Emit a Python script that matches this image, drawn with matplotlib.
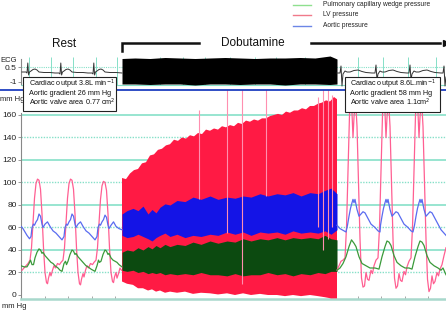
import matplotlib
matplotlib.use('Agg')
import matplotlib.pyplot as plt
import numpy as np
from matplotlib.lines import Line2D
from matplotlib.patches import Rectangle

plt.rcParams['font.family'] = ['Liberation Sans', 'DejaVu Sans']

# ---------------- data ----------------
# Rest phase (time in arbitrary units)
rest_lv_t = [22,24,26,28,30,31.5,33,34.5,36,37.5,39,40.5,42,43.5,45,46.5,47.5,48.5,50,51,52.5,54,55.5,57.5,59.5,61,63,
             64.5,66,67.5,69,70.5,72,73.5,75,76.5,78,79.5,80.5,81.5,83,84,85.5,87,88.5,90.5,92.5,94,96,
             97.5,99,100.5,102,103.5,105,106.5,108,109.5,111,112.5,113.5,114.5,116,117,118.5,120,121.5]
rest_lv_p = [22,24,26,28,31,42,64,86,99,103,102,94,72,42,20,11,10,15,20,17,22,26,24,28,27,29,31,
             42,64,86,99,103,102,94,72,42,20,10,9,14,19,16,22,26,24,28,27,29,31,
             42,64,85,97,101,100,93,72,42,20,12,11,16,20,15,19,24,22]

rest_ao_t = [21,23,25,27,29.5,31,32,33.5,34.5,36,37.5,39,40.5,42,43,45,47.5,50,53,56,59,62,
             64,65,66.5,67.5,69,70.5,72,73.5,75,76,78,80.5,83,86,89,92,95,
             97,98,99.5,100.5,102,103.5,105,106.5,108,109,111,113.5,116,119,122]
rest_ao_p = [61,59,56,53,50,52,60,63,62,65,67,72,70,63,60,63,65,61,57,55,52,49,
             52,60,63,62,65,67,72,70,63,60,63,65,61,57,55,52,49,
             52,60,63,62,65,67,71,69,62,59,62,65,61,59,58]

rest_pw_t = [21,24,27,29,30.5,32,33.5,35,37,39,40.5,42,43,45,47,49,51,53,55,58,60,62,
             64,65.5,66.5,68,70,72,73.5,75,76,78,80,82,84,86,88,91,93,95,
             97,98.5,99.5,101,103,105,106.5,108,109,111,113,115,117,119,122]
rest_pw_p = [26,25,25,28,31,27,27,33,38,41,40,37,38,35,33,31,29,28,26,24,22,21,
             28,30,27,30,36,40,39,36,37,34,32,30,28,26,25,23,22,21,
             26,31,29,30,36,40,39,36,37,33,31,30,29,27,25]

# Dobutamine phase: envelopes of the compressed recording
dob_t = [122,127,133,138,143,148,152,156,160,165,170,177,185,193,201,210,
         218,227,235,243,251,260,268,277,285,293,301,310,318,325,331,337]
dob_ao_max = [72,75,77,75,79,72,76,73,78,81,80,84,83,87,85,88,
              85,87,86,88,87,90,88,90,89,91,88,91,90,93,95,90]
dob_ao_min = [53,51,52,54,52,50,48,51,53,55,52,54,51,53,52,54,
              53,56,54,56,53,56,55,56,54,57,55,56,55,57,54,58]
dob_pw_max = [38,40,39,42,40,43,41,44,42,45,43,45,44,47,45,48,
              46,48,47,50,48,50,49,51,49,51,50,51,50,53,50,49]
dob_pw_min = [22,21,22,20,21,19,20,19,20,18,19,18,19,18,20,18,
              18,17,19,17,18,18,20,18,19,17,19,18,20,19,21,21]
dob_lv_min = [12,10,9,6,6,4,5,3,4,2,3,2,3,1,2,1.5,
              0.5,1.5,0,1.5,0,1,0,0,-1,0,-1,0,-1,-2,-3,-3]
dob_lvtop_t = [122,126,130,134,138,142,146,150,154,158,162,166,170,174,178,182,186,190,194,198,
               202,206,210,214,218,222,226,230,234,238,242,246,250,254,258,262,266,270,274,278,
               282,286,290,294,298,302,306,310,314,318,322,326,330,334,337]
dob_lvtop_p = [104,103,108,111,112,117,118,124,125,129,130,133,134,138,137,140,139,142,141,144,
               143,147,146,148,147,150,149,151,150,153,152,155,154,156,155,157,157,159,160,161,
               160,163,162,164,164,166,165,168,168,170,171,173,172,176,174]
spike_t = [199,227,242,266,318,323,328,332]
spike_top = [164,185,185,185,176,185,185,178]
spike_bot = [85,55,10,88,60,40,50,60]

# Recovery phase
rec_lv_t = [337,339,341,343,345,346.5,348,349.5,350.5,352,353,354,355.5,357,358.5,360,361.5,363,364.5,366,367.5,369,371,372.5,374,376,378,
            379.5,381,382.5,383.5,385,386,387,388.5,390,391.5,393,394.5,396,397.5,399,400.5,402,404,405.5,407,409,411,
            412.5,414,415.5,416.5,418,419,420,421.5,423,424.5,426,427.5,429,430.5,432,433.5,435,437,438.5,440,442,444,446]
rec_lv_p = [22,26,30,31,33,60,110,160,176,162,140,158,174,150,100,50,15,7,8,20,14,13,22,19,26,31,33,
            60,110,160,176,162,140,158,174,150,100,50,15,6,8,19,13,12,21,18,25,30,33,
            60,110,160,176,162,140,158,174,150,100,50,14,3,6,17,10,12,20,17,23,27,35,42]

rec_ao_t = [337,340,344,346,347.5,349,350.5,352,353,354,355,357,359,361,363,365,368,371,375,378,380,
            380.5,382,383.5,385,386,387,388,390,392,394,396,398,401,404,408,411,413,
            414.5,416,417.5,419,420,421,422,424,426,428,430,432,435,438,441,444,446]
rec_ao_p = [62,59,57,56,62,70,77,82,85,82,85,76,70,72,74,73,68,63,60,57,56,
            62,70,77,82,85,82,85,76,70,72,74,73,68,63,60,57,56,
            62,70,77,82,85,82,85,76,70,72,74,73,68,63,58,55,53]

rec_pw_t = [337,340,343,346,349,351.5,354,356,359,362,366,370,375,379,
            382,385,387,389,391,394,397,401,405,409,412,
            415,418,420,422,424,427,430,434,438,441,443,446]
rec_pw_p = [22,24,28,34,43,49,46,43,34,28,26,24,24,23,
            34,43,48,47,44,35,29,26,24,24,23,
            34,43,48,47,44,35,29,26,24,22,24,18]

# ECG
ecg_rest_t = [22,26,27,27.8,28.6,29.5,31,33,35,37,39,44,50,55,59,60,60.8,61.6,62.5,64,66,68,70,72,77,83,88,92,
              93,93.8,94.6,95.5,97,99,101,103,105,110,116,122]
ecg_rest_v = [0,0,-0.1,0.9,-0.3,0,0.1,0.25,0.3,0.2,0,-0.05,-0.05,-0.1,-0.1,-0.2,0.9,-0.3,0,0.1,0.25,0.3,0.2,0,-0.05,-0.05,-0.1,-0.1,
              -0.2,0.9,-0.3,0,0.1,0.25,0.3,0.2,0,-0.05,-0.05,-0.1]
ecg_rec_t = [337,340,341,342,343,345,347,350,354,358,362,366,372,375,376,377,378,380,382,385,389,393,397,401,407,
             409,410,411,412,414,416,419,423,427,431,435,441,443,444,445,446]
ecg_rec_v = [-0.1,-0.1,0.6,-1.4,-0.2,0.1,0,0,0.15,0.2,0.05,-0.05,-0.1,-0.1,0.7,-0.8,-0.2,0.1,0,0,0.15,0.2,0.05,-0.05,-0.1,
             -0.1,0.7,-0.8,-0.2,0.1,0,0,0.15,0.2,0.05,-0.05,-0.1,-0.1,0.6,-1.4,-0.5]
ecg_blk_t = [122,135,150,165,180,195,210,225,240,255,270,285,300,315,330,337]
ecg_blk_hi = [1.35,1.4,1.35,1.45,1.4,1.35,1.4,1.45,1.4,1.35,1.4,1.4,1.45,1.4,1.6,1.3]
ecg_blk_lo = [-1.2,-1.2,-1.25,-1.2,-1.2,-1.3,-1.2,-1.2,-1.25,-1.2,-1.2,-1.3,-1.2,-1.2,-1.25,-1.2]
ecg_grid_t = [29,51,73,96,117,160,183,205,230,255,276,305,328,358,383,408,436]

yticks = [0,20,40,60,80,100,120,140,160]
legend_labels = ['Pulmonary capillary wedge pressure', 'LV pressure', 'Aortic pressure']
box_left = ['Cardiac output 3.8L min$^{-1}$', 'Aortic gradient 26 mm Hg', 'Aortic valve area 0.77 cm$^{2}$']
box_right = ['Cardiac output 8.6L.min$^{-1}$', 'Aortic gradient 58 mm Hg', 'Aortic valve area 1.1cm$^{2}$']

# ---------------- style ----------------
W, H = 446, 313
fig = plt.figure(figsize=(W/100, H/100), dpi=100)
fig.patch.set_facecolor('white')

def fx(x):
    return x / W

def fy(y):
    return 1 - y / H

GRID = '#86e0c8'
LV_C = '#ff5f92'
AO_C = '#5a6cf0'
PW_C = '#3a9a3a'
RED = '#ff1a44'
BLUE = '#1414e6'
DGREEN = '#0c4a10'

# main pressure axes
ax = fig.add_axes([fx(21), fy(299), fx(425), 209/H])
ax.set_xlim(21, 446)
ax.set_ylim(-3.56, 182.2)
for v in [40, 80, 120, 160]:
    ax.axhline(v, color=GRID, lw=1.2, zorder=1)
for v in [20, 60, 100, 140]:
    ax.axhline(v, color=GRID, lw=1.0, ls=(0, (1, 1)), zorder=1)

red_x = np.concatenate([dob_lvtop_t, dob_t[::-1]])
red_y = np.concatenate([dob_lvtop_p, dob_lv_min[::-1]])
ax.fill(red_x, red_y, color=RED, lw=0, zorder=3)
ax.fill_between(dob_t, dob_ao_min, dob_ao_max, color=BLUE, lw=0, zorder=4)
ax.fill_between(dob_t, dob_pw_min, dob_pw_max, color=DGREEN, lw=0, zorder=5)
ax.vlines(spike_t, spike_bot, spike_top, color='#ff8fb0', lw=0.8, zorder=6)

for t, p, c in [(rest_lv_t, rest_lv_p, LV_C), (rest_ao_t, rest_ao_p, AO_C), (rest_pw_t, rest_pw_p, PW_C),
                (rec_lv_t, rec_lv_p, LV_C), (rec_ao_t, rec_ao_p, AO_C), (rec_pw_t, rec_pw_p, PW_C)]:
    ax.plot(t, p, color=c, lw=0.9, zorder=6)

for s in ['top', 'right']:
    ax.spines[s].set_visible(False)
ax.spines['left'].set_color('#888888')
ax.spines['left'].set_linewidth(0.8)
ax.spines['left'].set_bounds(-3.56, 162)
ax.spines['bottom'].set_color('#a8d8cc')
ax.spines['bottom'].set_linewidth(1.8)
ax.set_yticks(yticks)
ax.set_yticklabels([str(v) for v in yticks], fontsize=6, color='#222222')
ax.tick_params(axis='y', length=2, width=0.6, color='#888888', pad=1)
ax.set_xticks([45, 68, 92, 115, 358, 381, 405, 428])
ax.tick_params(axis='x', direction='in', length=2, width=0.6, color='#999999', labelbottom=False)

# ECG axes
ecg = fig.add_axes([fx(21), fy(88), fx(425), 32/H])
ecg.set_xlim(21, 446)
ecg.set_ylim(-1.6, 1.6)
ecg.patch.set_alpha(0)
ecg.axhline(0.5, color=GRID, lw=0.8, ls=(0, (1, 1)), zorder=1)
ecg.axhline(-1.3, color=GRID, lw=0.8, zorder=1)
ecg.vlines(ecg_grid_t, -1.3, 1.5, color=GRID, lw=0.7, zorder=1)
ecg.fill_between(ecg_blk_t, ecg_blk_lo, ecg_blk_hi, color='black', lw=0, zorder=3)
ecg.plot(ecg_rest_t, ecg_rest_v, color='#333333', lw=0.7, zorder=4)
ecg.plot(ecg_rec_t, ecg_rec_v, color='#333333', lw=0.7, zorder=4)
for s in ['top', 'right', 'bottom']:
    ecg.spines[s].set_visible(False)
ecg.spines['left'].set_color('#888888')
ecg.spines['left'].set_linewidth(0.8)
ecg.spines['left'].set_bounds(-1.2, 1.3)
ecg.set_xticks([])
ecg.set_yticks([0.5, -1])
ecg.set_yticklabels(['0.5', '-1'], fontsize=6, color='#222222')
ecg.tick_params(axis='y', length=2, width=0.6, color='#888888', pad=1)
fig.text(fx(0), fy(60), 'ECG', fontsize=5.5, va='center', ha='left', color='#222222')

# separator line
fig.add_artist(Line2D([0, 1], [fy(90.5), fy(90.5)], transform=fig.transFigure, color='#1f3fc0', lw=1.3, zorder=2))

# mm Hg labels
fig.text(fx(0), fy(100), 'mm Hg', fontsize=5.5, va='center', ha='left', color='#222222')
fig.text(fx(2), fy(307), 'mm Hg', fontsize=5.5, va='center', ha='left', color='#222222')

# phase annotations
fig.text(fx(64), fy(44), 'Rest', fontsize=8.5, ha='center', va='center', color='#111111')
fig.text(fx(253), fy(43), 'Dobutamine', fontsize=8.5, ha='center', va='center', color='#111111')
fig.add_artist(Line2D([fx(122), fx(122), fx(199)], [fy(51), fy(43), fy(43)], transform=fig.transFigure,
                      color='#111111', lw=1.8, solid_joinstyle='miter'))
fig.add_artist(Line2D([fx(311), fx(440)], [fy(43), fy(43)], transform=fig.transFigure, color='#111111', lw=1.8))
fig.add_artist(Line2D([fx(446)], [fy(43)], transform=fig.transFigure, marker='>', markersize=5,
                      color='#111111', lw=0))

# legend
for i, (lab, c) in enumerate(zip(legend_labels, ['#8fe08f', '#f07a8a', '#6c86e6'])):
    y = [4.5, 15, 25.5][i]
    fig.add_artist(Line2D([fx(293), fx(311)], [fy(y), fy(y)], transform=fig.transFigure, color=c, lw=1.0))
    fig.text(fx(323), fy(y), lab, fontsize=4.8, va='center', ha='left', color='#222222')

# info boxes
def info_box(x0, y0, x1, y1, lines, tx):
    fig.add_artist(Rectangle((fx(x0), fy(y1)), fx(x1 - x0), (y1 - y0) / H, transform=fig.transFigure,
                             facecolor='white', edgecolor='#222222', lw=0.8, zorder=8))
    for k, s in enumerate(lines):
        fig.text(fx(tx), fy(y0 + 7.5 + 8.7 * k), s, fontsize=5.2, va='center', ha='left',
                 color='#111111', zorder=9)

info_box(22.5, 77, 116, 111, box_left, 29)
info_box(345, 77, 440, 112, box_right, 350)

fig.savefig('out.png', dpi=100, facecolor='white')
